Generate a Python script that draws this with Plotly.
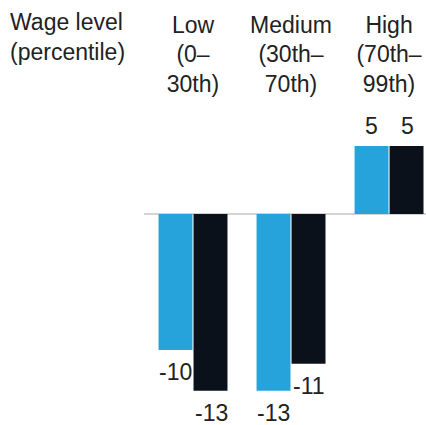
import plotly.graph_objects as go

categories = ["Low<br>(0–<br>30th)", "Medium<br>(30th–<br>70th)", "High<br>(70th–<br>99th)"]
series_a = [-10, -13, 5]
series_b = [-13, -11, 5]
header_text = "Wage level<br>(percentile)"

BLUE = "#27A3DC"
DARK = "#0B111B"
TEXT = "#222222"
FONT = "Liberation Sans"
FS = 23

W, H = 426, 425
ML, MR, MT, MB = 144, 0, 110, 0

fig = go.Figure()
fig.add_trace(go.Bar(x=categories, y=series_a, marker=dict(color=BLUE, line=dict(width=0)), name="A"))
fig.add_trace(go.Bar(x=categories, y=series_b, marker=dict(color=DARK, line=dict(width=0)), name="B"))

# value labels
for vals, shift in ((series_a, -18), (series_b, 18)):
    for c, v in zip(categories, vals):
        fig.add_annotation(
            x=c, y=v, xref="x", yref="y", text=str(v), showarrow=False,
            xshift=shift, yshift=(20 if v > 0 else -22), yanchor="middle",
            font=dict(family=FONT, size=FS, color=TEXT),
        )

plot_w = W - ML - MR
plot_h = H - MT - MB
fig.add_annotation(
    x=(8 - ML) / plot_w, y=1 + (MT - 7) / plot_h, xref="paper", yref="paper",
    xanchor="left", yanchor="top", align="left", text=header_text, showarrow=False,
    font=dict(family=FONT, size=FS, color=TEXT),
)

fig.update_layout(
    width=W, height=H,
    margin=dict(l=ML, r=MR, t=MT, b=MB, pad=0),
    paper_bgcolor="white", plot_bgcolor="white",
    barmode="group", bargap=0.286, bargroupgap=0.03,
    showlegend=False,
    font=dict(family=FONT, size=FS, color=TEXT),
    xaxis=dict(side="top", range=[-0.5, 2.377], showgrid=False, showline=False,
               ticks="", ticklabelstandoff=12, tickfont=dict(family=FONT, size=FS, color=TEXT)),
    yaxis=dict(range=[-15.51, 7.65], showgrid=False, showticklabels=False,
               zeroline=True, zerolinecolor="#D3D3D3", zerolinewidth=2),
)

fig.write_html("out.html", config={"displayModeBar": False},
               post_script="document.body.style.margin='0';document.body.style.overflow='hidden';")
